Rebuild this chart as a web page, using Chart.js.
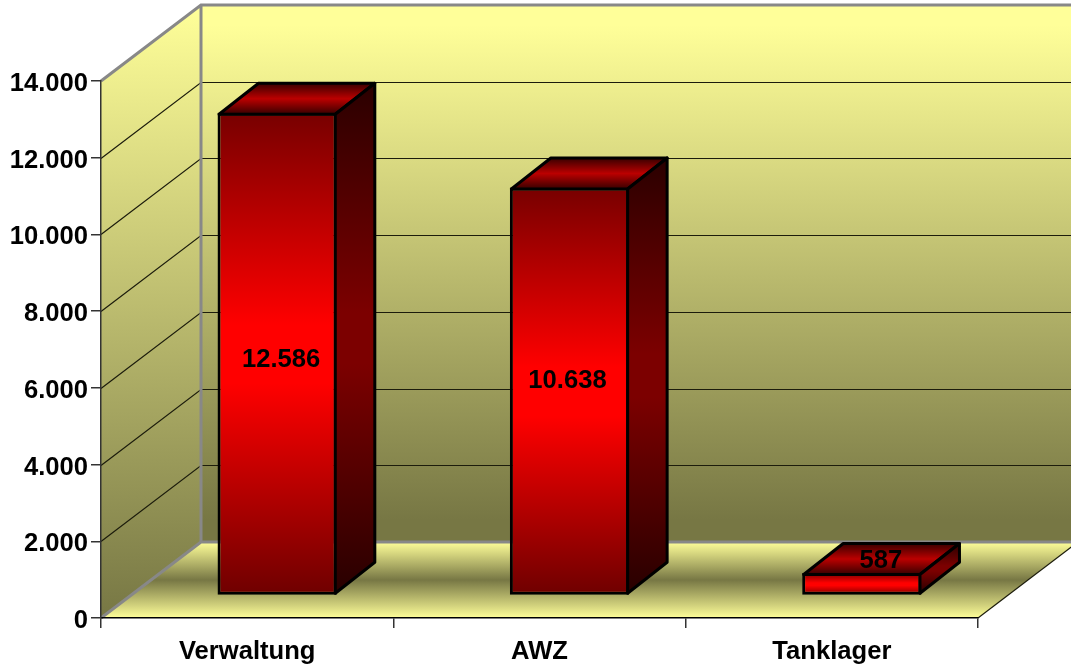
<!DOCTYPE html>
<html>
<head>
<meta charset="utf-8">
<style>html,body{margin:0;padding:0;background:#fff}canvas{display:block}</style>
<script src="https://cdn.jsdelivr.net/npm/chart.js@4"></script>
</head>
<body>
<canvas id="c" width="1071" height="667" style="width:1071px;height:667px"></canvas>
<script>
const categories = ['Verwaltung', 'AWZ', 'Tanklager'];
const values = [12586, 10638, 587];
const valueLabels = ['12.586', '10.638', '587'];
const yMax = 14000;
const yStep = 2000;

const FAMILY = '"Liberation Sans", Arial, sans-serif';
const FONT_SIZE = 25.6;
const BORDER = 3;
const wall = {dx: 100, dy: 76};
const shift = {dx: 30, dy: 22.5};
const depth = {dx: 39.5, dy: 31};
const labelNudge = [[4, 6], [-2, -10], [19, -23]];

function poly(ctx, pts) {
  ctx.beginPath();
  pts.forEach((p, i) => i ? ctx.lineTo(p[0], p[1]) : ctx.moveTo(p[0], p[1]));
  ctx.closePath();
}
function vGrad(ctx, y0, y1, stops) {
  const g = ctx.createLinearGradient(0, y0, 0, y1);
  stops.forEach(s => g.addColorStop(s[0], s[1]));
  return g;
}
const LIGHT = '#ffff99', DARK = '#777744';

const walls = {
  id: 'walls',
  beforeDraw(chart) {
    const {ctx, chartArea: a, scales: {y}} = chart;
    const W = chart.width;
    const L = a.left, R = a.right, T = a.top, B = a.bottom;
    const bx = L + wall.dx, ty = T - wall.dy, by = B - wall.dy;
    ctx.save();
    // back wall
    ctx.fillStyle = vGrad(ctx, ty + 20, by - 22, [[0, LIGHT], [1, DARK]]);
    ctx.fillRect(bx, ty, W - bx, by - ty);
    // left wall
    poly(ctx, [[L, T], [bx, ty], [bx, by], [L, B]]);
    ctx.fillStyle = vGrad(ctx, ty, B, [[0, LIGHT], [1, DARK]]);
    ctx.fill();
    // floor
    poly(ctx, [[L, B], [bx, by], [R + wall.dx, by], [R, B]]);
    ctx.fillStyle = vGrad(ctx, by, B, [[0, LIGHT], [0.5, DARK], [1, LIGHT]]);
    ctx.fill();
    // grid lines
    ctx.strokeStyle = '#1c1c0c';
    ctx.lineWidth = 1.2;
    for (let v = yStep; v < yMax; v += yStep) {
      const p = Math.round(y.getPixelForValue(v)) + 0.5;
      ctx.beginPath();
      ctx.moveTo(L, p);
      ctx.lineTo(bx, p - wall.dy);
      ctx.lineTo(W, p - wall.dy);
      ctx.stroke();
    }
    // floor right edge
    ctx.beginPath();
    ctx.moveTo(R, B);
    ctx.lineTo(R + wall.dx, by);
    ctx.stroke();
    // wall frame
    ctx.strokeStyle = '#888888';
    ctx.lineWidth = 3;
    ctx.lineJoin = 'miter';
    ctx.beginPath();
    ctx.moveTo(L, T);
    ctx.lineTo(bx, ty);
    ctx.lineTo(W, ty);
    ctx.moveTo(bx, ty);
    ctx.lineTo(bx, by);
    ctx.lineTo(W, by);
    ctx.moveTo(bx, by);
    ctx.lineTo(L, B);
    ctx.stroke();
    ctx.restore();
  },
  beforeDatasetsDraw(chart) {
    chart.ctx.save();
    chart.ctx.translate(shift.dx, -shift.dy);
  },
  afterDatasetsDraw(chart) {
    const ctx = chart.ctx;
    const bars = chart.getDatasetMeta(0).data;
    const inset = BORDER / 2;
    bars.forEach(el => {
      const p = el.getProps(['x', 'y', 'base', 'width'], true);
      const l = p.x - p.width / 2 + inset, r = p.x + p.width / 2 - inset;
      const t = p.y + inset, b = p.base - inset;
      ctx.lineWidth = BORDER;
      ctx.lineJoin = 'round';
      ctx.strokeStyle = '#000';
      // top face
      poly(ctx, [[l, t], [l + depth.dx, t - depth.dy], [r + depth.dx, t - depth.dy], [r, t]]);
      ctx.fillStyle = vGrad(ctx, t - depth.dy, t, [[0, '#380000'], [0.5, '#bb0000'], [1, '#380000']]);
      ctx.fill();
      ctx.stroke();
      // side face
      poly(ctx, [[r, t], [r + depth.dx, t - depth.dy], [r + depth.dx, b - depth.dy], [r, b]]);
      ctx.fillStyle = vGrad(ctx, t - depth.dy, b, [[0, '#2a0000'], [0.45, '#7c0000'], [0.55, '#7c0000'], [1, '#280000']]);
      ctx.fill();
      ctx.stroke();
    });
    ctx.restore();
    // value labels
    ctx.save();
    ctx.font = 'bold ' + FONT_SIZE + 'px ' + FAMILY;
    ctx.fillStyle = '#000';
    ctx.textAlign = 'center';
    ctx.textBaseline = 'middle';
    bars.forEach((el, i) => {
      const p = el.getProps(['x', 'y', 'base'], true);
      ctx.fillText(valueLabels[i],
        p.x + shift.dx + labelNudge[i][0],
        (p.y + p.base) / 2 - shift.dy + labelNudge[i][1]);
    });
    ctx.restore();
  }
};

new Chart(document.getElementById('c'), {
  type: 'bar',
  data: {
    labels: categories,
    datasets: [{
      data: values,
      clip: false,
      barPercentage: 0.408,
      categoryPercentage: 1,
      borderWidth: BORDER,
      borderColor: '#000',
      borderSkipped: false,
      backgroundColor(c) {
        const sc = c.chart.scales;
        const v = c.dataset && c.dataset.data[c.dataIndex];
        if (c.type !== 'data' || !sc || !sc.y || v === undefined) return '#ff0000';
        const top = sc.y.getPixelForValue(v);
        const bot = sc.y.getPixelForValue(0);
        if (!isFinite(top) || !isFinite(bot)) return '#ff0000';
        return vGrad(c.chart.ctx, top, bot, [[0, '#770000'], [0.44, '#ff0000'], [0.56, '#ff0000'], [1, '#6e0000']]);
      }
    }]
  },
  plugins: [walls],
  options: {
    responsive: false,
    animation: false,
    layout: {padding: {top: 81, right: 93, left: 0, bottom: 0}},
    plugins: {legend: {display: false}, tooltip: {enabled: false}},
    scales: {
      x: {
        afterFit(s) { s.height = 49; },
        offset: true,
        border: {color: '#000', width: 1.5},
        grid: {drawOnChartArea: false, offset: true, tickLength: 10, color: '#333', lineWidth: 1.5},
        ticks: {color: '#000', font: {family: FAMILY, size: FONT_SIZE, weight: 'bold'}, padding: 9, maxRotation: 0}
      },
      y: {
        afterFit(s) { s.width = 101; },
        min: 0,
        max: yMax,
        border: {color: '#333', width: 1.5},
        grid: {drawOnChartArea: false, tickLength: 10, color: '#333', lineWidth: 1.5},
        ticks: {
          stepSize: yStep,
          color: '#000',
          padding: 3,
          labelOffset: 3,
          font: {family: FAMILY, size: FONT_SIZE, weight: 'bold'},
          callback: v => String(v).replace(/\B(?=(\d{3})+$)/g, '.')
        }
      }
    }
  }
});
</script>
</body>
</html>
